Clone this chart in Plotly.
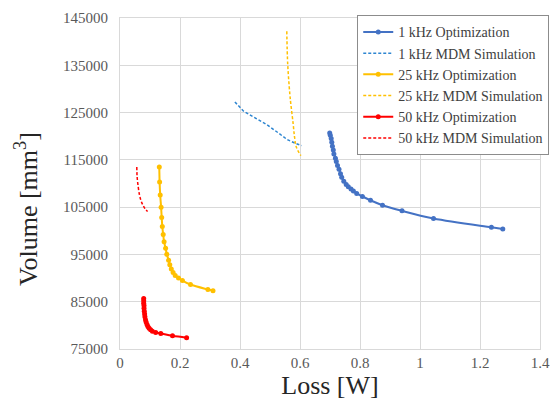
import plotly.graph_objects as go

# 1 kHz Optimization
k1_opt_x = [0.699, 0.701, 0.704, 0.706, 0.708, 0.711, 0.713, 0.718, 0.721, 0.725, 0.730, 0.735,
            0.739, 0.746, 0.754, 0.761, 0.770, 0.778, 0.789, 0.808, 0.835, 0.875, 0.940, 1.045,
            1.238, 1.276]
k1_opt_y = [120700, 120200, 119530, 118700, 117860, 117090, 116250, 115350, 114660, 113830,
            112990, 112080, 111320, 110490, 109780, 109300, 108820, 108400, 107900, 107270,
            106440, 105400, 104220, 102620, 100740, 100390]
# 1 kHz MDM Simulation
k1_sim_x = [0.383, 0.412, 0.445, 0.488, 0.526, 0.558, 0.585, 0.605]
k1_sim_y = [127250, 125300, 124060, 122500, 120780, 119260, 118490, 118000]
# 25 kHz Optimization
k25_opt_x = [0.131, 0.132, 0.134, 0.137, 0.139, 0.141, 0.144, 0.147, 0.152, 0.156, 0.162,
             0.166, 0.171, 0.177, 0.184, 0.195, 0.208, 0.235, 0.293, 0.310]
k25_opt_y = [113480, 110340, 107570, 104990, 102830, 100890, 99220, 97670, 96290, 95040, 93790,
             92810, 91910, 91200, 90570, 90030, 89470, 88630, 87590, 87320]
# 25 kHz MDM Simulation
k25_sim_x = [0.556, 0.559, 0.566, 0.569, 0.577, 0.582, 0.588, 0.603]
k25_sim_y = [142200, 135250, 128990, 127050, 122720, 119740, 117650, 115900]
# 50 kHz Optimization
k50_opt_x = [0.079, 0.079, 0.079, 0.080, 0.080, 0.081, 0.082, 0.083, 0.085, 0.087, 0.090,
             0.093, 0.097, 0.102, 0.108, 0.119, 0.136, 0.175, 0.222]
k50_opt_y = [85700, 85200, 84700, 84200, 83600, 83000, 82400, 81800, 81200, 80700, 80200,
             79750, 79400, 79050, 78750, 78500, 78300, 77800, 77400]
# 50 kHz MDM Simulation
k50_sim_x = [0.056, 0.057, 0.060, 0.065, 0.070, 0.076, 0.083, 0.092]
k50_sim_y = [113480, 111500, 109650, 107570, 106400, 105480, 104700, 104080]

x_ticks = [0, 0.2, 0.4, 0.6, 0.8, 1, 1.2, 1.4]
x_tick_text = ["0", "0.2", "0.4", "0.6", "0.8", "1", "1.2", "1.4"]
y_ticks = [75000, 85000, 95000, 105000, 115000, 125000, 135000, 145000]

BLUE = "#4472C4"
LBLUE = "#2E86D1"
YEL = "#FFC000"
RED = "#FF0000"
DASH = "3px,2px"
SERIF = "Liberation Serif"

fig = go.Figure()
fig.add_trace(go.Scatter(x=k1_opt_x, y=k1_opt_y, mode="lines+markers", name="1 kHz Optimization",
                         line=dict(color=BLUE, width=2, shape="spline"), marker=dict(size=5, color=BLUE)))
fig.add_trace(go.Scatter(x=k1_sim_x, y=k1_sim_y, mode="lines", name="1 kHz MDM Simulation",
                         line=dict(color=LBLUE, width=1.5, dash=DASH)))
fig.add_trace(go.Scatter(x=k25_opt_x, y=k25_opt_y, mode="lines+markers", name="25 kHz Optimization",
                         line=dict(color=YEL, width=2, shape="spline"), marker=dict(size=5, color=YEL)))
fig.add_trace(go.Scatter(x=k25_sim_x, y=k25_sim_y, mode="lines", name="25 kHz MDM Simulation",
                         line=dict(color=YEL, width=1.5, dash=DASH, shape="spline")))
fig.add_trace(go.Scatter(x=k50_opt_x, y=k50_opt_y, mode="lines+markers", name="50 kHz Optimization",
                         line=dict(color=RED, width=2, shape="spline"), marker=dict(size=5, color=RED)))
fig.add_trace(go.Scatter(x=k50_sim_x, y=k50_sim_y, mode="lines", name="50 kHz MDM Simulation",
                         line=dict(color=RED, width=1.5, dash=DASH, shape="spline")))

GRID = "#D9D9D9"
TICKFONT = dict(family=SERIF, size=15, color="#595959")

fig.update_layout(
    width=560, height=407,
    margin=dict(l=120, r=10, t=14, b=58),
    paper_bgcolor="white", plot_bgcolor="white",
    showlegend=True,
    legend=dict(x=1.022, y=1.008, xanchor="right", yanchor="top",
                bgcolor="white", bordercolor="#8C8C8C", borderwidth=1,
                font=dict(family=SERIF, size=14, color="#404040"),
                itemwidth=30, tracegroupgap=0),
    xaxis=dict(range=[0, 1.4], tickvals=x_ticks, ticktext=x_tick_text, showgrid=True,
               gridcolor=GRID, gridwidth=1, zeroline=False, showline=True, linecolor=GRID,
               mirror=True, ticks="", tickfont=TICKFONT,
               title=dict(text="Loss [W]", font=dict(family=SERIF, size=26, color="#262626"),
                          standoff=0)),
    yaxis=dict(range=[75000, 145000], tickvals=y_ticks, tickformat="d", showgrid=True,
               gridcolor=GRID, gridwidth=1, zeroline=False, showline=True, linecolor=GRID,
               mirror=True, ticks="", tickfont=TICKFONT, ticklabelstandoff=8),
    annotations=[dict(text="Volume [mm<sup>3</sup>]", xref="paper", yref="paper",
                      x=-0.223, y=0.424, xanchor="center", yanchor="middle", textangle=-90,
                      showarrow=False,
                      font=dict(family=SERIF, size=26, color="#262626"))],
)

fig.write_html("out.html")
